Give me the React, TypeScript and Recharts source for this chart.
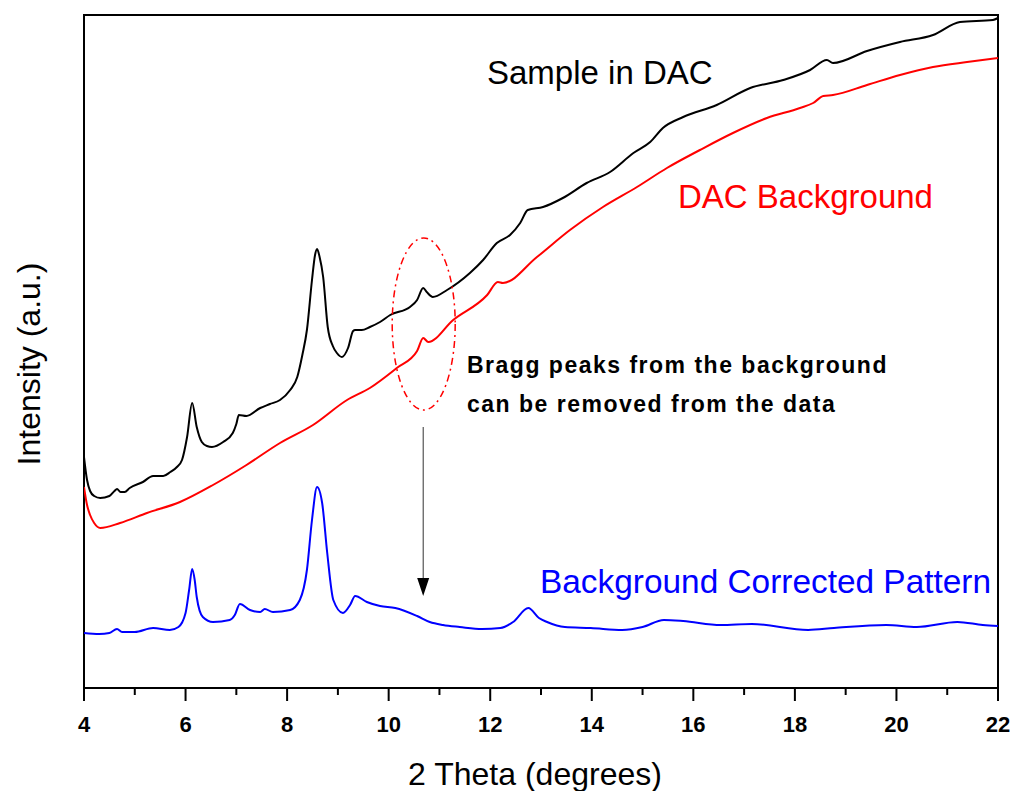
import { LineChart, Line, XAxis, YAxis, ReferenceArea, ReferenceDot, ReferenceLine, Customized } from "recharts";

// [2 theta, intensity (a.u.)]
const sampleInDac = [
  [4.0, 231], [4.06, 208], [4.12, 197], [4.2, 192], [4.32, 190], [4.5, 192], [4.6, 197], [4.65, 199],
  [4.72, 196], [4.8, 196], [4.9, 200], [5.16, 206], [5.36, 212], [5.56, 212], [5.7, 216], [5.83, 221],
  [5.93, 228], [6.03, 251], [6.13, 285], [6.22, 261], [6.32, 246], [6.42, 242], [6.52, 241], [6.74, 246],
  [6.93, 255], [7.0, 264], [7.05, 273], [7.2, 272], [7.47, 280], [7.66, 284], [7.86, 288], [8.06, 298],
  [8.2, 311], [8.3, 333], [8.39, 358], [8.49, 408], [8.55, 433], [8.59, 439], [8.64, 431], [8.71, 411],
  [8.8, 361], [8.9, 342], [8.98, 335], [9.08, 331], [9.2, 340], [9.3, 357], [9.34, 358], [9.47, 358],
  [9.63, 361], [9.83, 366], [10.03, 373], [10.42, 381], [10.56, 388], [10.68, 400], [10.75, 396],
  [10.87, 391], [11.15, 398], [11.6, 415], [11.86, 428], [12.13, 445], [12.39, 453], [12.59, 465],
  [12.74, 478], [13.04, 481], [13.43, 490], [13.9, 505], [14.36, 516], [14.82, 535], [15.15, 546],
  [15.4, 560], [15.8, 571], [16.46, 583], [17.12, 600], [17.77, 608], [18.3, 618], [18.63, 628],
  [18.75, 625], [19.42, 637], [20.07, 646], [20.72, 653], [21.25, 666], [21.9, 668], [22.0, 670],
];

const dacBackground = [
  [4.0, 201], [4.06, 183], [4.12, 173], [4.2, 165], [4.32, 160], [4.71, 165], [5.24, 175], [5.89, 186],
  [6.54, 203], [7.2, 223], [7.86, 245], [8.51, 263], [9.18, 288], [9.63, 300], [10.16, 320], [10.56, 337],
  [10.68, 350], [10.78, 346], [11.27, 368], [11.94, 393], [12.15, 406], [12.25, 405], [12.92, 431],
  [13.57, 458], [14.22, 481], [14.89, 501], [15.48, 520], [16.13, 538], [16.78, 555], [17.45, 570],
  [18.1, 580], [18.36, 585], [18.56, 592], [18.75, 593], [19.42, 603], [20.07, 613], [20.72, 621],
  [21.39, 626], [22.0, 630],
];

const corrected = [
  [4.0, 55], [4.3, 54], [4.5, 55], [4.65, 59], [4.75, 56], [5.0, 56], [5.36, 60], [5.69, 58], [5.86, 61],
  [6.0, 75], [6.07, 98], [6.13, 119], [6.18, 108], [6.22, 91], [6.34, 71], [6.54, 66], [6.87, 68],
  [6.97, 73], [7.07, 84], [7.27, 78], [7.47, 76], [7.56, 79], [7.72, 76], [8.06, 78], [8.25, 88],
  [8.39, 118], [8.49, 168], [8.59, 201], [8.69, 185], [8.79, 135], [8.91, 88], [9.1, 75], [9.24, 83],
  [9.34, 92], [9.57, 86], [9.83, 82], [10.13, 80], [10.56, 72], [10.81, 66], [11.07, 63], [11.4, 61],
  [11.84, 59], [12.2, 60], [12.45, 66], [12.75, 80], [12.96, 70], [13.12, 66], [13.47, 61], [13.98, 60],
  [14.6, 58], [15.0, 61], [15.42, 68], [15.8, 67], [16.54, 63], [17.15, 64], [18.26, 58], [18.77, 60],
  [19.8, 63], [20.4, 61], [21.2, 66], [21.7, 63], [22.0, 62],
];

const xTicks = [4, 5, 6, 7, 8, 9, 10, 11, 12, 13, 14, 15, 16, 17, 18, 19, 20, 21, 22];

const toRows = (pts: number[][]) => pts.map(([t, v]) => ({ t, v }));

const FONT = "'Liberation Sans', Arial, sans-serif";

const ThetaTick = (props: any) => {
  const { x, y, payload } = props;
  const major = payload.value % 2 === 0;
  return (
    <g>
      <line x1={x} x2={x} y1={y} y2={y + (major ? 13 : 7)} stroke="#000" strokeWidth={2} />
      {major && (
        <text x={x} y={y + 44} textAnchor="middle" fontSize={22} fontWeight="bold" fill="#000" fontFamily={FONT}>
          {payload.value}
        </text>
      )}
    </g>
  );
};

export default function App() {
  return (
    <div style={{ position: "absolute", left: 0, top: 0, width: 1016, height: 791, background: "#fff" }}>
      <LineChart width={1016} height={791} margin={{ top: 15, right: 18, left: 84, bottom: 43 }}>
        <XAxis
          dataKey="t"
          type="number"
          domain={[4, 22]}
          ticks={xTicks}
          interval={0}
          height={60}
          tickSize={0}
          tickMargin={0}
          axisLine={false}
          tickLine={false}
          tick={<ThetaTick />}
          allowDataOverflow
        />
        <YAxis type="number" domain={[0, 673]} hide allowDataOverflow />

        {/* frame */}
        <ReferenceArea x1={4} x2={22} y1={0} y2={673} fill="none" stroke="#000" strokeWidth={2} />

        <Line data={toRows(sampleInDac)} dataKey="v" type="monotone" stroke="#000" strokeWidth={2} dot={false} isAnimationActive={false} />
        <Line data={toRows(dacBackground)} dataKey="v" type="monotone" stroke="#ff0000" strokeWidth={2} dot={false} isAnimationActive={false} />
        <Line data={toRows(corrected)} dataKey="v" type="monotone" stroke="#0000ff" strokeWidth={2} dot={false} isAnimationActive={false} />

        {/* dashed ellipse around the background peak */}
        <ReferenceDot
          x={10.69}
          y={364}
          r={0}
          shape={(p: any) => (
            <ellipse cx={p.cx} cy={p.cy} rx={31.5} ry={86} fill="none" stroke="#ff0000" strokeWidth={1.5} strokeDasharray="7 4 2 4" />
          )}
        />
        {/* arrow */}
        <ReferenceLine segment={[{ x: 10.68, y: 261 }, { x: 10.68, y: 106 }]} stroke="#333" strokeWidth={1} />
        <ReferenceDot
          x={10.68}
          y={92}
          r={0}
          shape={(p: any) => (
            <polygon points={`${p.cx - 6},${p.cy - 18} ${p.cx + 6},${p.cy - 18} ${p.cx},${p.cy}`} fill="#000" />
          )}
        />

        <Customized
          component={
            <g fontFamily={FONT}>
              <text x={487} y={84} fontSize={33} fill="#000">Sample in DAC</text>
              <text x={678} y={208} fontSize={33} fill="#ff0000">DAC Background</text>
              <text x={540} y={593} fontSize={33.4} fill="#0000ff">Background Corrected Pattern</text>
              <text x={467} y={373} fontSize={23} fontWeight="bold" letterSpacing={1.5} fill="#000">
                Bragg peaks from the background
              </text>
              <text x={467} y={412} fontSize={23} fontWeight="bold" letterSpacing={1.5} fill="#000">
                can be removed from the data
              </text>
              <text x={535} y={785} fontSize={32} textAnchor="middle" fill="#000">2 Theta (degrees)</text>
              <text x={40} y={364} fontSize={32} textAnchor="middle" fill="#000" transform="rotate(-90 40 364)">
                Intensity (a.u.)
              </text>
            </g>
          }
        />
      </LineChart>
    </div>
  );
}
